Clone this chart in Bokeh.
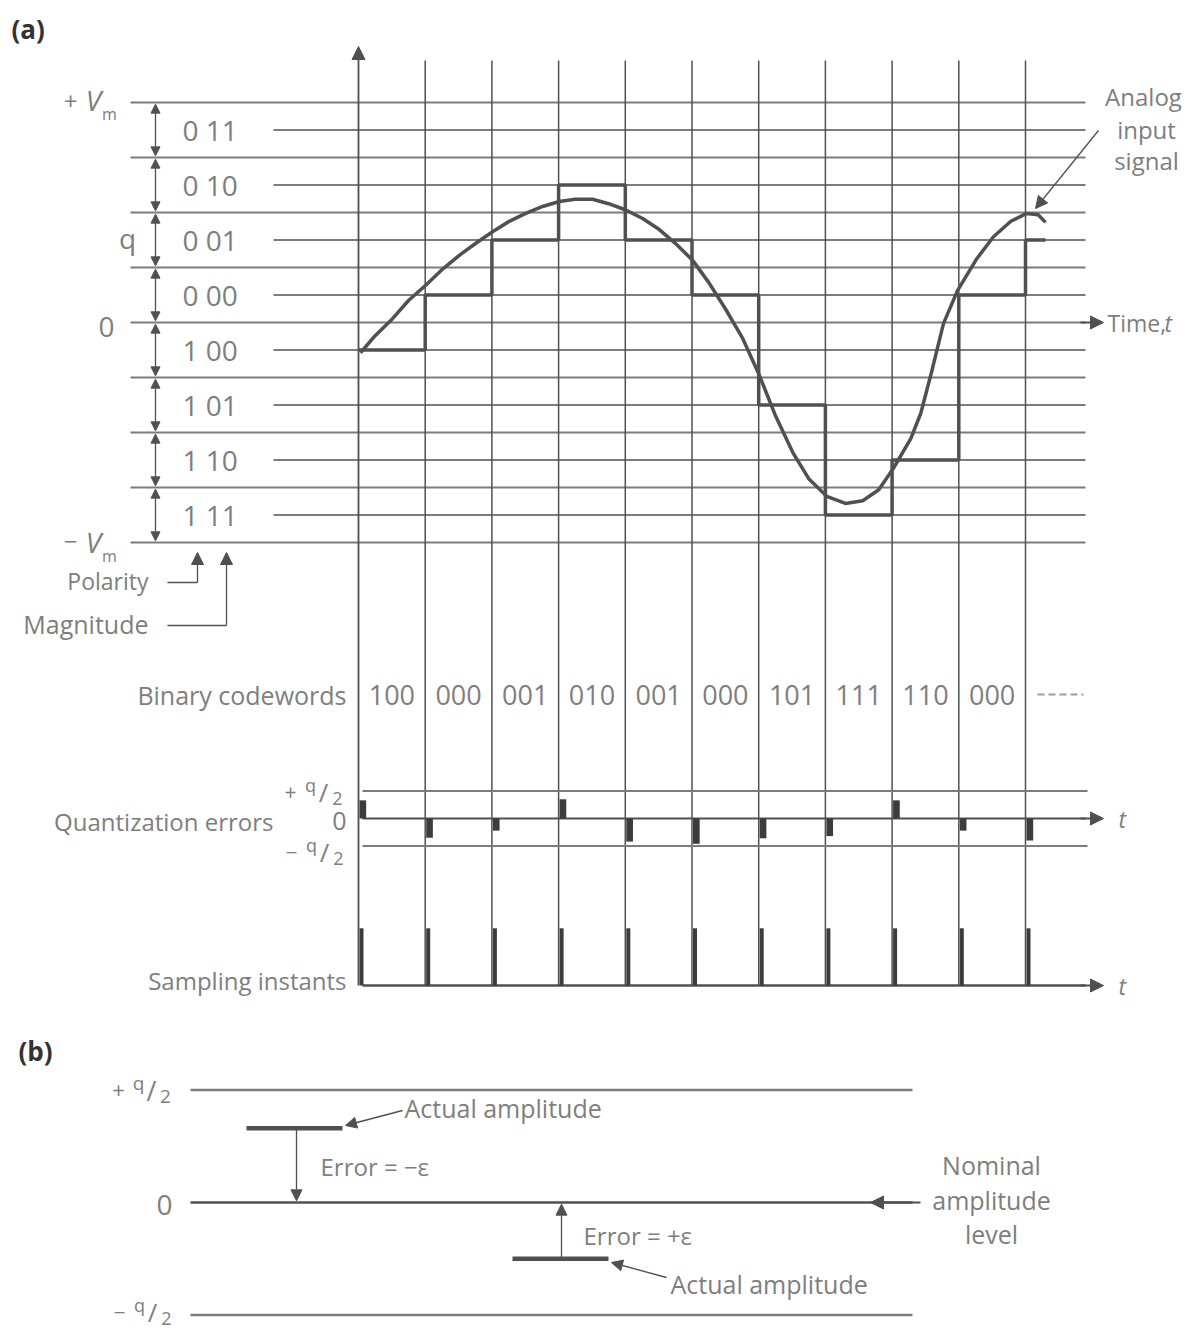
from bokeh.plotting import figure
from bokeh.models import Range1d, Arrow, NormalHead
from bokeh.core.properties import value
from bokeh.embed import file_html
from bokeh.resources import INLINE

# ---------------- data ----------------
level_codes = ["0 11", "0 10", "0 01", "0 00", "1 00", "1 01", "1 10", "1 11"]
level_values = [3.5, 2.5, 1.5, 0.5, -0.5, -1.5, -2.5, -3.5]          # in units of q
boundary_values = [4, 3, 2, 1, 0, -1, -2, -3, -4]                    # decision levels (q)
sample_times = [0, 1, 2, 3, 4, 5, 6, 7, 8, 9, 10]                    # sampling instants (T)
quantized = [-0.5, 0.5, 1.5, 2.5, 1.5, 0.5, -1.5, -3.5, -2.5, 0.5, 1.5]
codewords = ["100", "000", "001", "010", "001", "000", "101", "111", "110", "000"]
quant_errors = [0.33, -0.35, -0.22, 0.35, -0.42, -0.46, -0.36, -0.32, 0.33, -0.22, -0.40]
signal_t = [0.03, 0.25, 0.51, 0.75, 1.02, 1.27, 1.53, 1.77, 2.01, 2.26, 2.50, 2.76, 3.01,
            3.25, 3.51, 3.75, 4.00, 4.26, 4.51, 4.75, 5.01, 5.25, 5.50, 5.76, 6.01, 6.25,
            6.51, 6.75, 7.02, 7.30, 7.56, 7.80, 8.02, 8.28, 8.43, 8.59, 8.77, 8.98, 9.27,
            9.52, 9.78, 10.01, 10.19, 10.30]
signal_v = [-0.55, -0.24, 0.07, 0.40, 0.69, 0.98, 1.24, 1.45, 1.65, 1.84, 1.98, 2.11, 2.20,
            2.24, 2.24, 2.16, 2.05, 1.89, 1.69, 1.44, 1.13, 0.73, 0.25, -0.29, -0.96, -1.69,
            -2.36, -2.84, -3.16, -3.29, -3.24, -3.04, -2.65, -2.11, -1.65, -0.91, -0.02, 0.58,
            1.16, 1.56, 1.84, 1.98, 1.96, 1.82]
b_levels = [0.5, 0.0, -0.5]
b_actual = [0.33, -0.25]
b_error_labels = ["Error = \u2212\u03b5", "Error = +\u03b5"]

# ---------------- layout helpers ----------------
W, H = 1186, 1333
T0_PX, PX_T = 358.0, 66.7
Q0_PX, PX_Q = 322.0, 55.0


def X(px):
    return (px - T0_PX) / PX_T


def Y(py):
    return (Q0_PX - py) / PX_Q


E_ZERO = Y(818)
S_ZERO = Y(985)
B_ZERO = Y(1202)
B_Q = 225.0 / PX_Q
PULSE = 1.04
TAIL = 0.3

DARK = "#505050"
GRID = "#7c7c7c"
TXT = "#7e7e7e"
FONT = "Open Sans"

p = figure(width=W, height=H, x_range=Range1d(X(0), X(W)),
           y_range=Range1d(Y(H), Y(0)), toolbar_location=None,
           output_backend="svg", min_border=0, x_axis_location=None,
           y_axis_location=None)
p.grid.visible = False
p.outline_line_color = None
p.background_fill_color = "white"
p.border_fill_color = "white"


def txt(x, y, s, size=24, align="left", color=TXT, style="normal", baseline="middle"):
    p.text(x=[x], y=[y], text=[s], text_font=value(FONT), text_font_size=value(f"{size}px"),
           text_align=align, text_baseline=baseline, text_color=color, text_font_style=style)


def arrow(x0, y0, x1, y1, size=12, color=DARK, width=1.5, both=False):
    head = NormalHead(size=size, fill_color=color, line_color=color)
    kw = dict(end=head, x_start=x0, y_start=y0, x_end=x1, y_end=y1,
              line_color=color, line_width=width)
    if both:
        kw["start"] = NormalHead(size=size, fill_color=color, line_color=color)
    p.add_layout(Arrow(**kw))


def qhalf(xplus, y, sign, size=20):
    # draws "+ q/2" or "- q/2" starting at pixel x position xplus
    txt(X(xplus), y, sign, size, align="center")
    txt(X(xplus + 20), y + 0.12, "q", size - 3, align="center")
    txt(X(xplus + 33), y, "/", size + 5, align="center")
    txt(X(xplus + 47), y - 0.12, "2", size - 3, align="center")


# ---------------- panel (a): levels ----------------
n_b = len(boundary_values)
p.segment(x0=[X(130)] * n_b, y0=boundary_values, x1=[X(1085)] * n_b, y1=boundary_values,
          line_color=GRID, line_width=2)
n_l = len(level_values)
p.segment(x0=[X(273)] * n_l, y0=level_values, x1=[X(1085)] * n_l, y1=level_values,
          line_color=GRID, line_width=2)
arrow(X(1080), 0, X(1103), 0, size=13, width=2)
for lab, v in zip(level_codes, level_values):
    txt(X(182), v, lab, 28)
for top, bot in zip(boundary_values[:-1], boundary_values[1:]):
    arrow(X(155), top - 0.03, X(155), bot + 0.03, size=9, width=1.3, both=True)

# vertical sample lines
p.segment(x0=sample_times[1:], y0=[S_ZERO] * 10, x1=sample_times[1:], y1=[Y(60)] * 10,
          line_color=DARK, line_width=1.5)
arrow(0, S_ZERO, 0, Y(46), size=13, width=1.8)

# analog signal and staircase
p.line(signal_t, signal_v, line_color=DARK, line_width=3.5, line_join="round")
p.step(sample_times + [sample_times[-1] + TAIL], quantized + [quantized[-1]], mode="after",
       line_color=DARK, line_width=3.5)

# labels panel (a)
txt(X(11), Y(28), "(a)", 26, color="#333333", style="bold")
txt(X(70), Y(101), "+", 24, align="center")
txt(X(93), Y(99), "V", 28, align="center", style="italic")
txt(X(109), Y(113), "m", 16, align="center")
txt(X(70), Y(541), "\u2212", 24, align="center")
txt(X(93), Y(541), "V", 28, align="center", style="italic")
txt(X(109), Y(555), "m", 16, align="center")
txt(X(127), Y(237), "q", 28, align="center")
txt(X(106), Y(326), "0", 28, align="center")
txt(X(1107), Y(322), "Time,", 23)
txt(X(1164), Y(322), "t", 23, style="italic")
txt(X(1143), Y(96), "Analog", 24, align="center")
txt(X(1146), Y(129), "input", 24, align="center")
txt(X(1146), Y(160), "signal", 24, align="center")
arrow(X(1098), Y(130), X(1035), Y(208), size=12, width=1.3)

# polarity / magnitude
p.line([X(167), X(197)], [Y(582), Y(582)], line_color=DARK, line_width=1.3)
arrow(X(197), Y(582), X(197), Y(552), size=12, width=1.3)
p.line([X(167), X(226)], [Y(625), Y(625)], line_color=DARK, line_width=1.3)
arrow(X(226), Y(625), X(226), Y(552), size=12, width=1.3)
txt(X(148), Y(580), "Polarity", 23, align="right")
txt(X(148), Y(623), "Magnitude", 25, align="right")

# binary codewords
txt(X(346), Y(694), "Binary codewords", 25, align="right")
p.text(x=[t + 0.5 for t in sample_times[:-1]], y=[Y(694)] * len(codewords), text=codewords,
       text_font=value(FONT), text_font_size=value("27px"), text_align="center",
       text_baseline="middle", text_color=TXT)
p.line([X(1037), X(1083)], [Y(694), Y(694)], line_color="#9a9a9a", line_width=2,
       line_dash="7 4")

# quantization errors
p.segment(x0=[X(362)] * 2, y0=[E_ZERO + 0.5, E_ZERO - 0.5], x1=[X(1087)] * 2,
          y1=[E_ZERO + 0.5, E_ZERO - 0.5], line_color=GRID, line_width=2)
p.line([X(362), X(1085)], [E_ZERO, E_ZERO], line_color=DARK, line_width=2)
arrow(X(1080), E_ZERO, X(1103), E_ZERO, size=13, width=2)
p.vbar(x=[t + 0.065 for t in sample_times], width=0.1, bottom=E_ZERO,
       top=[E_ZERO + e for e in quant_errors], fill_color="#3c3c3c", line_color=None)
txt(X(273), Y(821), "Quantization errors", 24, align="right")
qhalf(290, Y(791), "+", 21)
txt(X(339), Y(820), "0", 25, align="center")
qhalf(291, Y(851), "\u2212", 21)
txt(X(1118), E_ZERO, "t", 23, style="italic")

# sampling instants
p.line([X(362), X(1085)], [S_ZERO, S_ZERO], line_color=DARK, line_width=2.5)
arrow(X(1080), S_ZERO, X(1103), S_ZERO, size=13, width=2)
p.vbar(x=[t + 0.045 for t in sample_times], width=0.06, bottom=S_ZERO, top=S_ZERO + PULSE,
       fill_color="#3c3c3c", line_color=None)
txt(X(346), Y(980), "Sampling instants", 24, align="right")
txt(X(1118), S_ZERO, "t", 23, style="italic")

# ---------------- panel (b) ----------------
txt(X(18), Y(1050), "(b)", 26, color="#333333", style="bold")
b_y = [B_ZERO + v * B_Q for v in b_levels]
p.segment(x0=[X(190)] * 3, y0=b_y, x1=[X(912)] * 3, y1=b_y,
          line_color=[GRID, DARK, GRID], line_width=2.5)
qhalf(118, b_y[0], "+", 22)
txt(X(164), b_y[1] - 0.05, "0", 28, align="center")
qhalf(119, b_y[2] + 0.06, "\u2212", 21)

ya = [B_ZERO + v * B_Q for v in b_actual]
p.segment(x0=[X(246), X(512)], y0=ya, x1=[X(342), X(608)], y1=ya,
          line_color=DARK, line_width=4.5)
arrow(X(296), ya[0], X(296), B_ZERO + 0.03, size=11, width=1.3)
arrow(X(561), ya[1], X(561), B_ZERO - 0.03, size=11, width=1.3)
txt(X(320), Y(1166), b_error_labels[0], 24)
txt(X(583), Y(1235), b_error_labels[1], 24)
arrow(X(402), Y(1110), X(345), Y(1125), size=11, width=1.3)
txt(X(404), Y(1107), "Actual amplitude", 25)
arrow(X(666), Y(1277), X(611), Y(1262), size=11, width=1.3)
txt(X(670), Y(1283), "Actual amplitude", 25)
arrow(X(920), B_ZERO, X(870), B_ZERO, size=13, width=2)
txt(X(991), Y(1164), "Nominal", 25, align="center")
txt(X(991), Y(1199), "amplitude", 25, align="center")
txt(X(991), Y(1233), "level", 25, align="center")

open("out.html", "w").write(file_html(p, INLINE))
